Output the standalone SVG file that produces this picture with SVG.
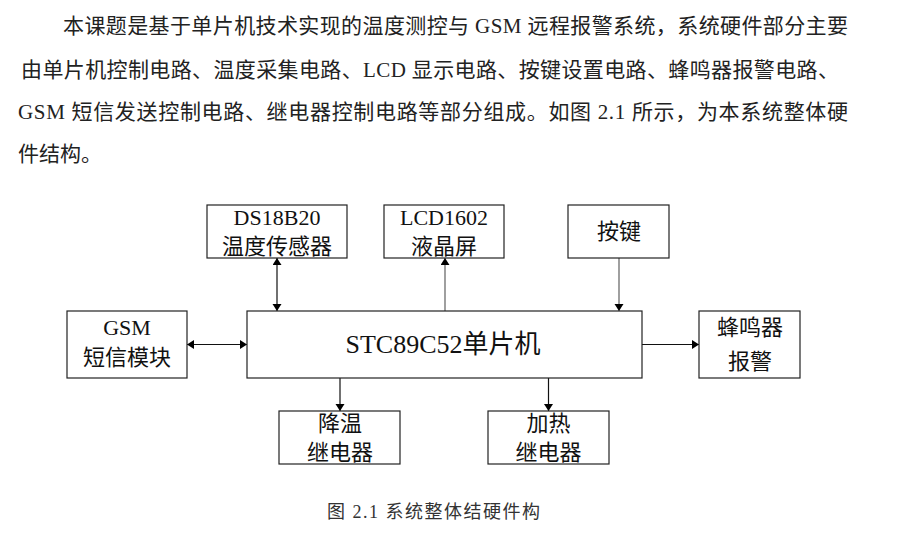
<svg xmlns="http://www.w3.org/2000/svg" width="913" height="558" viewBox="0 0 913 558">
<style>
.para{font-family:"Liberation Serif","Noto Sans CJK SC",serif;font-size:21px;fill:#222}
.box{fill:#fff;stroke:#222;stroke-width:1.2}
.t{font-family:"Liberation Serif","Noto Sans CJK SC",serif;font-size:22px;fill:#111;text-anchor:middle}
.big{font-size:26px}
.cap{font-family:"Liberation Serif","Noto Sans CJK SC",serif;font-size:18px;fill:#333}
.ln{stroke:#111;stroke-width:1.2;fill:none}
.gl{stroke:#777;stroke-width:1.4;fill:none}
</style>
<defs>
<marker id="ah" markerUnits="userSpaceOnUse" markerWidth="10" markerHeight="10" refX="7" refY="4.5" orient="auto-start-reverse">
<path d="M0,0 L7,4.5 L0,9 z" fill="#000"/>
</marker>
</defs>
<rect width="913" height="558" fill="#fff"/>
<g id="paragraph">
<text class="para" x="63" y="33" textLength="785" lengthAdjust="spacing">本课题是基于单片机技术实现的温度测控与 GSM 远程报警系统，系统硬件部分主要</text>
<text class="para" x="21" y="77" textLength="818" lengthAdjust="spacing">由单片机控制电路、温度采集电路、LCD 显示电路、按键设置电路、蜂鸣器报警电路、</text>
<text class="para" x="18" y="119" textLength="830" lengthAdjust="spacing">GSM 短信发送控制电路、继电器控制电路等部分组成。如图 2.1 所示，为本系统整体硬</text>
<text class="para" x="18" y="161">件结构。</text>
</g>
<g id="connectors">
<line class="ln" x1="277" y1="258" x2="277" y2="311" marker-start="url(#ah)" marker-end="url(#ah)"/>
<line class="gl" x1="445" y1="311" x2="445" y2="258" marker-end="url(#ah)"/>
<line class="gl" x1="619" y1="258" x2="619" y2="311" marker-end="url(#ah)"/>
<line class="ln" x1="187" y1="344.5" x2="247" y2="344.5" marker-start="url(#ah)" marker-end="url(#ah)"/>
<line class="ln" x1="642" y1="344.5" x2="699" y2="344.5" marker-end="url(#ah)"/>
<line class="ln" x1="340" y1="378" x2="340" y2="411" marker-end="url(#ah)"/>
<line class="ln" x1="548.5" y1="378" x2="548.5" y2="411" marker-end="url(#ah)"/>
</g>
<g id="ds18b20">
<rect class="box" x="207" y="205" width="140" height="53"/>
<text class="t" x="277" y="225">DS18B20</text>
<text class="t" x="277" y="254">温度传感器</text>
</g>
<g id="lcd1602">
<rect class="box" x="384" y="205" width="120" height="53"/>
<text class="t" x="444" y="225">LCD1602</text>
<text class="t" x="444" y="254">液晶屏</text>
</g>
<g id="key">
<rect class="box" x="568" y="205" width="101" height="53"/>
<text class="t" x="619" y="239">按键</text>
</g>
<g id="gsm">
<rect class="box" x="67" y="311" width="120" height="67"/>
<text class="t" x="127" y="335">GSM</text>
<text class="t" x="127" y="365">短信模块</text>
</g>
<g id="mcu">
<rect class="box" x="247" y="311" width="395" height="67"/>
<text class="t big" x="443" y="353">STC89C52单片机</text>
</g>
<g id="buzzer">
<rect class="box" x="699" y="311" width="101" height="67"/>
<text class="t" x="750" y="335">蜂鸣器</text>
<text class="t" x="750" y="369">报警</text>
</g>
<g id="cool">
<rect class="box" x="279" y="411" width="121" height="53"/>
<text class="t" x="340" y="431">降温</text>
<text class="t" x="340" y="460">继电器</text>
</g>
<g id="heat">
<rect class="box" x="488" y="411" width="121" height="53"/>
<text class="t" x="548.5" y="431">加热</text>
<text class="t" x="548.5" y="460">继电器</text>
</g>
<g id="caption">
<text class="cap" x="327" y="518" textLength="213" lengthAdjust="spacing">图 2.1 系统整体结硬件构</text>
</g>
</svg>
